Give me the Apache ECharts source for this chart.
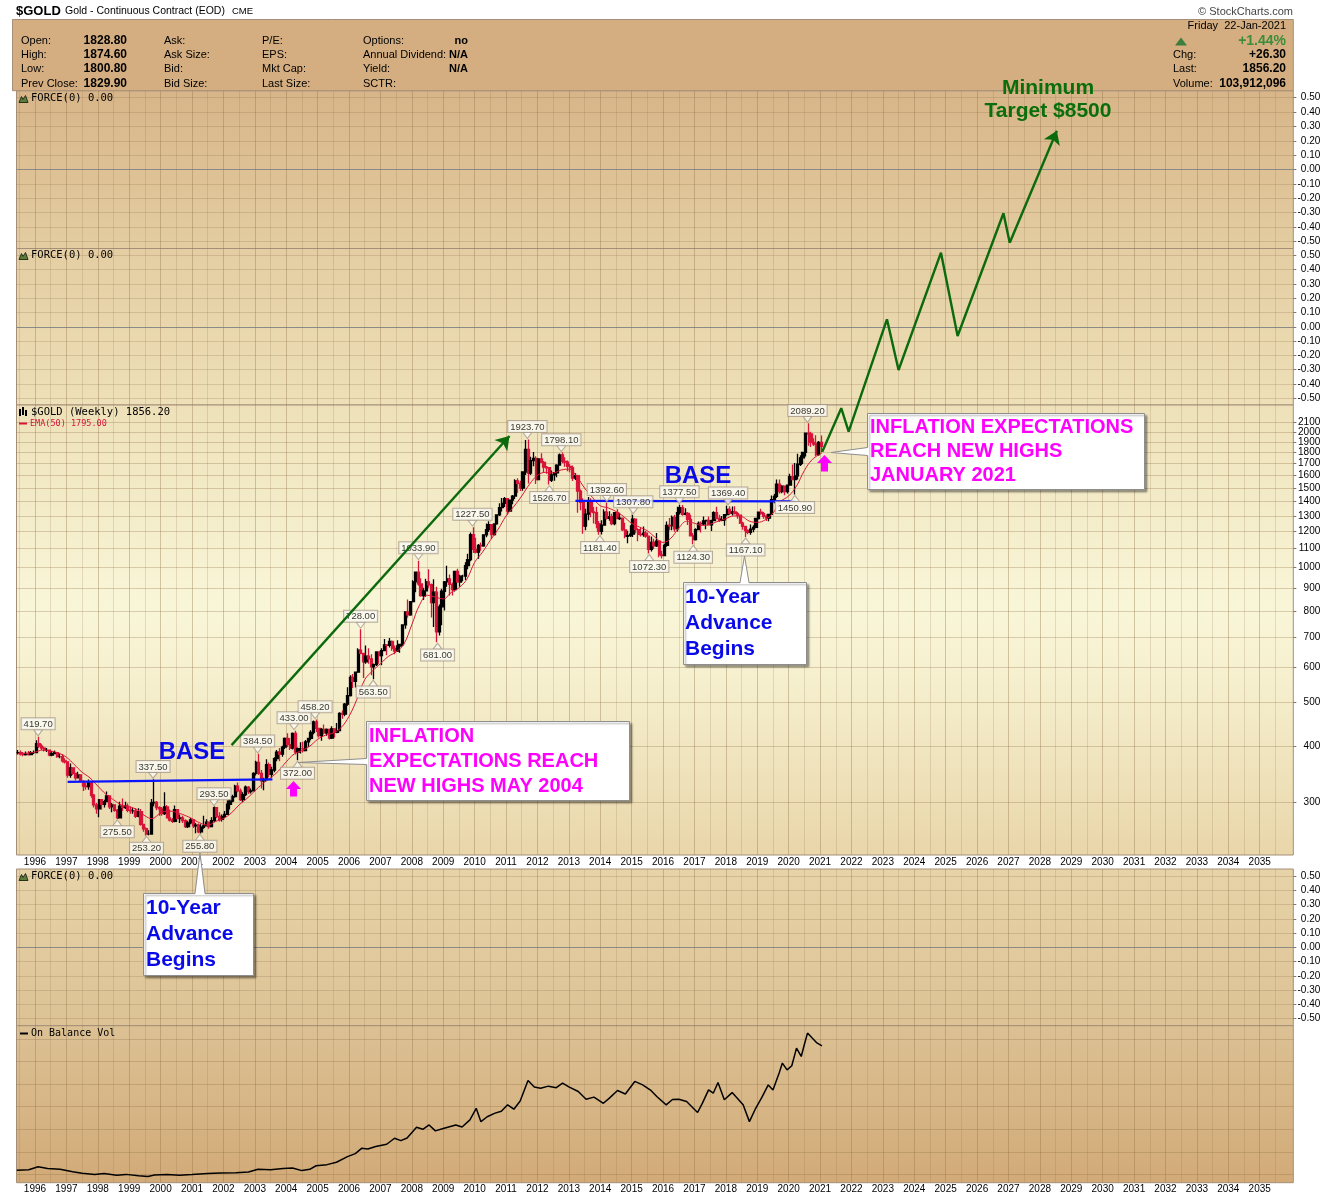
<!DOCTYPE html>
<html><head><meta charset="utf-8">
<script src="https://cdn.jsdelivr.net/npm/echarts@6/dist/echarts.min.js"></script>
<style>html,body{margin:0;padding:0;background:#fff}#c{width:1340px;height:1200px}</style>
</head><body><div id="c"></div>
<script>
// ---------------- DATA ----------------
const yearLabels = [1996,1997,1998,1999,2000,2001,2002,2003,2004,2005,2006,2007,2008,2009,2010,2011,2012,2013,2014,2015,2016,2017,2018,2019,2020,2021,2022,2023,2024,2025,2026,2027,2028,2029,2030,2031,2032,2033,2034,2035];
const halfYearLines = [1995.5,1996.5,1997.5,1998.5,1999.5,2000.5,2001.5,2002.5,2003.5,2004.5,2005.5,2006.5,2007.5,2008.5,2009.5,2010.5,2011.5,2012.5,2013.5,2014.5,2015.5,2016.5,2017.5,2018.5,2019.5,2020.5,2021.5,2022.5,2023.5,2024.5,2025.5,2026.5,2027.5,2028.5,2029.5,2030.5,2031.5,2032.5,2033.5,2034.5,2035.5];
const priceTickLabels = [300,400,500,600,700,800,900,1000,1100,1200,1300,1400,1500,1600,1700,1800,1900,2000,2100];
const forceTickLabels = [-0.5,-0.4,-0.3,-0.2,-0.1,0,0.1,0.2,0.3,0.4,0.5];
const obvGridLevels = [5.2,19.6,34,48.4,62.8,77.2,91.6];

// monthly bars, first month = June 1995
const firstYear = 1995, firstMonth = 6;
const closes = [
 387,384,383,384,383,387,387, // 1995 Jun-Dec
 405,400,396,392,392,382,385,387,379,379,371,369, // 1996
 345,358,348,340,345,334,326,325,332,311,296,290, // 1997
 304,297,301,310,293,296,288,277,294,292,294,288, // 1998
 287,287,279,286,268,262,255,255,299,300,292,290, // 1999
 283,293,277,274,272,289,276,277,273,265,270,274, // 2000
 266,267,258,264,266,271,265,273,292,279,275,279, // 2001
 282,297,302,309,326,318,304,312,324,317,318,348, // 2002
 368,348,335,337,364,346,354,375,388,384,398,416, // 2003
 403,396,427,388,395,395,391,409,416,429,453,438, // 2004
 422,436,428,436,417,437,429,433,473,471,496,518, // 2005
 569,557,584,654,643,616,634,625,600,607,648,636, // 2006
 652,672,670,684,660,651,668,673,744,795,783,838, // 2007
 928,975,918,865,886,928,914,834,880,718,816,884, // 2008
 928,942,916,891,979,927,955,955,1008,1040,1182,1096, // 2009
 1081,1118,1115,1180,1212,1244,1181,1248,1307,1357,1386,1421, // 2010
 1333,1410,1439,1556,1536,1500,1628,1829,1620,1725,1746,1566, // 2011
 1740,1710,1669,1664,1561,1604,1622,1687,1776,1719,1712,1676, // 2012
 1664,1578,1597,1476,1393,1234,1312,1396,1327,1323,1250,1202, // 2013
 1240,1326,1284,1296,1250,1322,1282,1286,1211,1171,1175,1184, // 2014
 1279,1212,1183,1182,1190,1172,1095,1135,1115,1142,1065,1061, // 2015
 1118,1238,1235,1291,1217,1322,1357,1311,1317,1277,1174,1152, // 2016
 1212,1252,1249,1268,1270,1242,1269,1322,1283,1271,1275,1309, // 2017
 1345,1318,1327,1316,1305,1253,1233,1206,1196,1215,1226,1283, // 2018
 1325,1316,1298,1285,1311,1413,1437,1529,1472,1514,1473,1523, // 2019
 1589,1566,1596,1694,1751,1800,1986,1978,1895,1879,1780,1895, // 2020
 1856 // 2021 Jan
];
const highs = [
 392,391,388,389,390,390,391,
 412,419.7,404,399,396,393,390,391,388,385,384,376,
 370,366,358,349,351,346,336,331,337,334,313,299,
 305,305,304,317,311,299,297,290,301,306,301,298,
 294,292,291,291,290,268,264,260,305,337.5,302,294,
 293,316,296,289,277,295,290,282,280,275,273,277,
 275,270,269,268,280,275,272,278,293.5,293,285,282,
 287,303,305,312,328,332,322,316,327,326,322,350,
 371,384.5,354,340,374,368,360,378,392,396,401,418,
 427,417,429,433,397,408,409,413,417,434,456,458.2,
 438,439,447,438,437,443,436,450,476,480,499,541,
 575,579,586,660,728,645,670,660,640,611,650,650,
 660,692,674,696,687,670,688,676,745,797,848,840,
 935,976,1033.9,945,900,942,990,920,940,905,826,895,
 932,1007,963,925,981,992,962,962,1025,1071,1195,1227.5,
 1162,1126,1135,1184,1250,1266,1244,1250,1310,1388,1425,1432,
 1424,1413,1447,1569,1577,1556,1632,1917,1923.7,1760,1804,1765,
 1745,1792,1723,1679,1669,1640,1627,1693,1790,1798.1,1755,1727,
 1697,1683,1617,1605,1488,1423,1348,1433,1424,1361,1362,1267,
 1271,1345,1392.6,1331,1315,1326,1345,1322,1290,1255,1205,1239,
 1307.8,1283,1220,1224,1232,1205,1175,1170,1157,1192,1142,1088,
 1127,1263,1287,1303,1306,1362,1377.5,1375,1352,1326,1308,1191,
 1221,1264,1264,1297,1273,1296,1275,1331,1362,1308,1300,1312,
 1369.4,1366,1365,1366,1326,1310,1262,1237,1215,1245,1240,1287,
 1330,1349,1326,1309,1315,1443,1454,1566,1566,1522,1516,1528,
 1613,1691,1704,1788,1775,1803,1986,2089.2,2001,1935,1966,1907,
 1962
];
const lows = [
 383,381,380,381,381,383,384,
 386,396,392,389,388,380,380,384,377,376,368,366,
 340,340,345,336,339,333,318,320,320,307,292,283,
 278,289,292,300,290,285,286,275.5,277,287,290,285,
 283,283,277,278,266,258,253.2,253.5,254,294,288,280,
 280,281,277,272,270,271,275,270,270,263,263,268,
 263,256,256,255.8,262,265,262,265,271,277,272,272,
 277,281,289,300,307,316,302,300,310,313,314,317,
 344,345,322,319,336,341,340,350,370,370,379,394,
 398,392,393,383,372,385,387,390,398,412,425,430,
 418,411,425,422,414,415,418,427,432,460,466,492,
 516,539,540,584,640,567,610,610,575,563.5,603,610,
 605,650,637,663,652,640,648,645,668,730,772,780,
 835,880,909,859,845,860,900,773,736,681,705,743,
 801,905,865,865,883,925,905,931,937,990,1031,1075,
 1072,1044,1088,1111,1165,1198,1156,1176,1243,1300,1330,1361,
 1308,1329,1381,1418,1462,1478,1480,1603,1535,1603,1676,1532,
 1563,1705,1627,1614,1526.7,1547,1556,1585,1685,1703,1673,1635,
 1626,1555,1562,1321,1339,1187,1208,1271,1292,1251,1221,1181.4,
 1182,1238,1277,1268,1240,1240,1280,1273,1204,1160,1131,1167,
 1167,1190,1142,1170,1169,1162,1072.3,1084,1098,1109,1052,1046,
 1061,1110,1208,1208,1199,1200,1310,1302,1305,1241,1171,1124.3,
 1146,1208,1195,1241,1214,1238,1204,1266,1280,1261,1265,1236,
 1302,1307,1303,1310,1282,1247,1211,1167.1,1183,1181,1196,1221,
 1277,1308,1281,1267,1266,1306,1387,1425,1458,1461,1445,1459,
 1517,1562,1450.9,1567,1679,1697,1763,1863,1851,1860,1765,1770,
 1800.8
];

// EMA(50)
const emaYears = [1995.45,1995.75,1996.0,1996.25,1996.5,1996.75,1997.0,1997.25,1997.5,1997.75,1998.0,1998.25,1998.5,1998.75,1999.0,1999.25,1999.5,1999.72,2000.0,2000.25,2000.5,2000.75,2001.0,2001.25,2001.5,2001.75,2002.0,2002.25,2002.5,2002.75,2003.0,2003.25,2003.5,2003.75,2004.0,2004.25,2004.5,2004.75,2005.0,2005.25,2005.5,2005.75,2006.0,2006.25,2006.5,2006.75,2007.0,2007.25,2007.5,2007.75,2008.0,2008.25,2008.5,2008.75,2009.0,2009.25,2009.5,2009.75,2010.0,2010.25,2010.5,2010.75,2011.0,2011.25,2011.5,2011.75,2012.0,2012.25,2012.5,2012.75,2013.0,2013.25,2013.5,2013.75,2014.0,2014.25,2014.5,2014.75,2015.0,2015.25,2015.5,2015.75,2016.0,2016.25,2016.5,2016.75,2017.0,2017.25,2017.5,2017.75,2018.0,2018.25,2018.5,2018.75,2019.0,2019.25,2019.5,2019.75,2020.0,2020.25,2020.5,2020.75,2021.06];
const emaValues = [385,386,388,392,390,386,378,364,350,340,326,313,304,296,293,289,280,276,284,287,285,281,276,270,267,272,276,284,296,306,318,330,340,352,369,384,391,400,414,423,428,440,466,508,562,588,610,633,648,675,745,825,866,858,850,878,900,940,1025,1080,1148,1215,1300,1365,1440,1530,1600,1625,1620,1645,1652,1590,1500,1430,1370,1355,1330,1295,1252,1228,1205,1165,1135,1160,1222,1265,1252,1238,1246,1265,1282,1300,1296,1266,1258,1274,1320,1400,1440,1515,1640,1735,1795];

// price annotations (value boxes)
const labelYears  = [1996.10,1998.62,1999.55,1999.76,2001.25,2001.70,2003.09,2004.25,2004.36,2004.92,2006.37,2006.77,2008.21,2008.82,2009.93,2011.68,2012.38,2012.76,2013.99,2014.21,2015.05,2015.56,2016.52,2016.96,2018.07,2018.63,2020.20,2020.60];
const labelPrices = [419.7,275.5,253.2,337.5,255.8,293.5,384.5,433.0,372.0,458.2,728.0,563.5,1033.9,681.0,1227.5,1923.7,1526.7,1798.1,1181.4,1392.6,1307.8,1072.3,1377.5,1124.3,1369.4,1167.1,1450.9,2089.2];
const labelSides  = ['top','bottom','bottom','top','bottom','top','top','top','bottom','top','top','bottom','top','bottom','top','top','bottom','top','bottom','top','top','bottom','top','bottom','top','bottom','bottom','top'];

// drawn lines
const baseLineYears  = [[1997.04,2003.56],[2013.21,2020.21]];
const baseLinePrices = [[333,337.5],[1405,1401]];
const advanceArrowYears  = [2002.26,2011.11];
const advanceArrowPrices = [402,1957];
const projYears  = [2021.07,2021.675,2021.91,2023.13,2023.50,2024.85,2025.38,2026.84,2027.04,2028.54];
const projPrices = [1806,2257,2001,3558,2745,5005,3267,6124,5266,9348];

// On Balance Volume (relative units)
const obvYears  = [1995.42,1995.8,1996.1,1996.4,1996.8,1997.2,1997.5,1997.9,1998.2,1998.6,1998.9,1999.3,1999.6,1999.8,2000.2,2000.6,2001.0,2001.5,2001.9,2002.4,2002.8,2003.1,2003.5,2003.9,2004.2,2004.5,2004.75,2004.95,2005.3,2005.6,2005.95,2006.2,2006.4,2006.6,2006.85,2007.2,2007.45,2007.65,2007.85,2008.15,2008.35,2008.55,2008.75,2009.0,2009.4,2009.6,2009.85,2010.05,2010.2,2010.4,2010.65,2010.85,2011.05,2011.25,2011.45,2011.7,2011.9,2012.1,2012.35,2012.6,2012.8,2013.0,2013.3,2013.55,2013.8,2014.1,2014.3,2014.55,2014.8,2015.1,2015.35,2015.6,2015.8,2016.1,2016.3,2016.5,2016.75,2017.1,2017.25,2017.45,2017.6,2017.75,2017.95,2018.2,2018.4,2018.55,2018.75,2018.95,2019.15,2019.35,2019.5,2019.7,2019.8,2019.95,2020.1,2020.25,2020.4,2020.5,2020.6,2020.75,2020.9,2021.06];
const obvValues = [8.0,8.3,10.2,9.0,8.5,7.0,6.0,5.2,5.8,4.7,5.3,4.4,4.0,4.9,5.3,4.8,5.2,5.8,6.2,6.3,6.8,8.6,8.2,9.0,9.4,7.7,8.5,10.8,11.5,13.0,16.6,18.5,21.9,21.5,23.0,24.5,28.3,26.8,28.5,35.3,34.0,36.8,33.0,34.5,36.8,35.5,40.0,47.4,38.9,42.0,44.3,45.5,49.6,46.8,52.0,65.1,61.0,60.2,61.5,60.5,63.4,61.0,58.1,53.2,54.5,50.6,54.0,58.7,56.5,64.5,62.3,59.0,54.9,49.6,53.0,53.2,51.7,44.7,50.5,59.1,57.0,63.8,52.8,57.4,53.0,49.6,38.9,47.4,54.5,62.3,59.1,70.0,76.2,71.9,74.5,85.7,80.4,88.0,95.3,92.1,89.0,87.2];

// ---------------- LAYOUT ----------------
const FONT = '"Liberation Sans", Arial, sans-serif';
const MONO = '"DejaVu Sans Mono", monospace';
const X_MIN = 1995.411, X_MAX = 2036.07;
const LOG_MIN = 2.35992, LOG_MAX = 3.36069;         // main price panel (log10)
const MAIN_TOP = 405, MAIN_H = 450;
const OV_TOP = 90.7;
const LOG_TOP = LOG_MAX + (MAIN_TOP - OV_TOP) * (LOG_MAX - LOG_MIN) / MAIN_H;
const FMAX = 0.549;
const L = 16.5, R = 46.7;
const lg = v => Math.log10(v);

function grad(stops){return {type:'linear',x:0,y:0,x2:0,y2:1,colorStops:stops.map(s=>({offset:s[0],color:s[1]}))};}
const BORDER = '#a58f78';
const grids = [
  {left:L,right:R,top:90.7,height:157.8,show:true,borderColor:BORDER,backgroundColor:grad([[0,'#d7b588'],[1,'#e4cda2']])},
  {left:L,right:R,top:248.5,height:156.5,show:true,borderColor:BORDER,backgroundColor:grad([[0,'#e4cda2'],[1,'#eee0b8']])},
  {left:L,right:R,top:MAIN_TOP,height:MAIN_H,show:true,borderColor:BORDER,backgroundColor:grad([[0,'#eee1b9'],[0.45,'#f9f6d8'],[0.6,'#f6f0cf'],[1,'#e9d6aa']])},
  {left:L,right:R,top:869,height:156.7,show:true,borderColor:BORDER,backgroundColor:grad([[0,'#e7d3a8'],[1,'#dcc295']])},
  {left:L,right:R,top:1025.7,height:157,show:true,borderColor:BORDER,backgroundColor:grad([[0,'#dcc194'],[1,'#d2aa78']])},
  {left:L,right:R,top:OV_TOP,height:MAIN_TOP+MAIN_H-OV_TOP,show:false}
];

const xAxes = [];
for (let g=0; g<5; g++){
  const showLab = (g===2 || g===4);
  xAxes.push({type:'value',gridIndex:g,min:X_MIN,max:X_MAX,position:'bottom',
    axisLine:{show:false},axisTick:{show:false,customValues:yearLabels},
    axisLabel:{show:showLab,customValues:yearLabels,formatter:v=>String(Math.round(v)),fontSize:10,color:'#000',fontFamily:FONT,margin:2,showMinLabel:true,showMaxLabel:true},
    splitLine:{show:true,lineStyle:{color:'rgba(140,110,70,0.36)',width:1}}});
  xAxes.push({type:'value',gridIndex:g,min:X_MIN,max:X_MAX,position:'bottom',
    axisLine:{show:false},axisTick:{show:false,customValues:halfYearLines},
    axisLabel:{show:false,customValues:halfYearLines},
    splitLine:{show:true,lineStyle:{color:'rgba(140,110,70,0.2)',width:1}}});
}
xAxes.push({type:'value',gridIndex:5,min:X_MIN,max:X_MAX,show:false});

function forceAxes(g){
  return [
    {type:'value',gridIndex:g,position:'right',min:-FMAX,max:FMAX,axisLine:{show:false},
     axisTick:{show:true,length:3,customValues:forceTickLabels,lineStyle:{color:'#8a7560'}},
     axisLabel:{customValues:forceTickLabels,formatter:v=>(Math.abs(v)<1e-9?0:v).toFixed(2),align:'right',margin:27,fontSize:10,fontFamily:FONT,color:'#000',showMinLabel:true,showMaxLabel:true},
     splitLine:{show:true,lineStyle:{color:'rgba(140,110,70,0.24)'}}},
    {type:'value',gridIndex:g,position:'right',min:-FMAX,max:FMAX,axisLine:{show:false},
     axisTick:{show:false,customValues:[0]},axisLabel:{show:false,customValues:[0]},
     splitLine:{show:true,lineStyle:{color:'#8c8a86'}}}
  ];
}
// price labels are split over two label layers so that closely spaced labels are all kept
const priceTickLogs = priceTickLabels.map(lg);
const priceLabLogsA = priceTickLabels.filter((v,i)=>!(i>=priceTickLabels.length-3 && (priceTickLabels.length-1-i)%2===0)).map(lg);
const priceLabLogsB = priceTickLabels.filter((v,i)=> (i>=priceTickLabels.length-3 && (priceTickLabels.length-1-i)%2===0)).map(lg);
const priceLabelCfg = {align:'right',margin:27,fontSize:10,fontFamily:FONT,color:'#000',formatter:v=>String(Math.round(Math.pow(10,v)))};
const yAxes = [
  ...forceAxes(0),  // 0,1
  ...forceAxes(1),  // 2,3
  {type:'value',gridIndex:2,position:'right',min:LOG_MIN,max:LOG_MAX,axisLine:{show:false},  // 4
   axisTick:{show:true,length:3,customValues:priceTickLogs,lineStyle:{color:'#8a7560'}},
   axisLabel:Object.assign({customValues:priceLabLogsA},priceLabelCfg),
   splitLine:{show:true,lineStyle:{color:'rgba(140,110,70,0.3)'}}},
  ...forceAxes(3),  // 5,6
  {type:'value',gridIndex:4,position:'right',min:0,max:100,axisLine:{show:false}, // 7
   axisTick:{show:false,customValues:obvGridLevels},axisLabel:{show:false,customValues:obvGridLevels},
   splitLine:{show:true,lineStyle:{color:'rgba(140,110,70,0.3)'}}},
  {type:'value',gridIndex:5,min:LOG_MIN,max:LOG_TOP,show:false}, // 8
  {type:'value',gridIndex:2,position:'right',min:LOG_MIN,max:LOG_MAX,axisLine:{show:false}, // 9
   axisTick:{show:false,customValues:priceLabLogsB},
   axisLabel:Object.assign({customValues:priceLabLogsB},priceLabelCfg),
   splitLine:{show:false}}
];

// ---------------- SERIES ----------------
const candles = closes.map((c,i)=>{
  const x = firstYear + (firstMonth - 1 + i + 0.5)/12;
  const o = i===0 ? closes[0] : closes[i-1];
  return [x, lg(o), lg(c), lg(lows[i]), lg(highs[i])];
});
const topLabels=[], botLabels=[];
labelYears.forEach((y,i)=>{
  const item=[y, lg(labelPrices[i]), labelPrices[i]];
  (labelSides[i]==='top'?topLabels:botLabels).push(item);
});
const labStyle = {show:true,formatter:p=>p.value[2].toFixed(2),fontSize:9.5,fontFamily:FONT,color:'#000',
  backgroundColor:'#fdfdf6',borderColor:'#a89a8a',borderWidth:1,padding:[1,2,0,2],distance:0};

const series = [
  {type:'candlestick',name:'$GOLD',xAxisIndex:4,yAxisIndex:4,barWidth:2.7,encode:{x:0,y:[1,2,3,4]},
   data:candles,z:3,
   itemStyle:{color:'#000',color0:'#d8143a',borderColor:'#000',borderColor0:'#d8143a',borderWidth:1.3}},
  {type:'line',name:'EMA(50)',xAxisIndex:4,yAxisIndex:4,showSymbol:false,smooth:0.4,z:4,
   data:emaYears.map((y,i)=>[y,lg(emaValues[i])]),lineStyle:{color:'#dd1538',width:1}},
  {type:'lines',coordinateSystem:'cartesian2d',xAxisIndex:4,yAxisIndex:4,z:5,symbol:'none',
   data:baseLineYears.map((ys,i)=>({coords:[[ys[0],lg(baseLinePrices[i][0])],[ys[1],lg(baseLinePrices[i][1])]]})),
   lineStyle:{color:'#0a14ff',width:2.2,opacity:1,curveness:0}},
  {type:'scatter',xAxisIndex:4,yAxisIndex:4,z:6,data:topLabels,symbol:'triangle',symbolRotate:180,symbolSize:[9,6],symbolOffset:[0,-4],
   itemStyle:{color:'#fdfdf6',borderColor:'#a89a8a',borderWidth:1},label:Object.assign({position:'top'},labStyle)},
  {type:'scatter',xAxisIndex:4,yAxisIndex:4,z:6,data:botLabels,symbol:'triangle',symbolSize:[9,6],symbolOffset:[0,4],
   itemStyle:{color:'#fdfdf6',borderColor:'#a89a8a',borderWidth:1},label:Object.assign({position:'bottom'},labStyle)},
  {type:'line',name:'On Balance Vol',xAxisIndex:8,yAxisIndex:7,showSymbol:false,
   data:obvYears.map((y,i)=>[y,obvValues[i]]),lineStyle:{color:'#000',width:1.5}},
  {type:'line',xAxisIndex:10,yAxisIndex:8,showSymbol:false,z:7,
   data:projYears.slice(0,-1).map((y,i)=>[y,lg(projPrices[i])]),lineStyle:{color:'#0b6a0b',width:2.4}},
  {type:'lines',coordinateSystem:'cartesian2d',xAxisIndex:10,yAxisIndex:8,z:7,symbol:['none','arrow'],symbolSize:13,
   data:[
     {coords:[[advanceArrowYears[0],lg(advanceArrowPrices[0])],[advanceArrowYears[1],lg(advanceArrowPrices[1])]]},
     {coords:[[projYears[projYears.length-2],lg(projPrices[projPrices.length-2])],[projYears[projYears.length-1],lg(projPrices[projPrices.length-1])]]}
   ],
   lineStyle:{color:'#0b6a0b',width:2.4,opacity:1,curveness:0}}
];

// ---------------- GRAPHICS (header, legends, callouts) ----------------
const G = [];
function T(x,y,text,font,fill,align,extra){
  G.push(Object.assign({type:'text',x:x,y:y,z:100,style:{text:text,font:font,fill:fill||'#000',
    align:align||'left',verticalAlign:'middle',textAlign:align||'left',textVerticalAlign:'middle'}},extra||{}));
}
function P(points,fill,stroke,lw){G.push({type:'polygon',z:100,shape:{points:points},style:{fill:fill,stroke:stroke||null,lineWidth:lw||1}});}
function PL(points,stroke){G.push({type:'polyline',z:101,shape:{points:points},style:{stroke:stroke,lineWidth:1,fill:null}});}
function BOX(x,y,w,h){G.push({type:'rect',z:99,shape:{x:x,y:y,width:w,height:h},
  style:{fill:'#fff',stroke:'#8e8e8e',lineWidth:1,shadowBlur:2,shadowOffsetX:2,shadowOffsetY:2,shadowColor:'rgba(0,0,0,0.35)'}});}

// header
G.push({type:'rect',z:1,shape:{x:12.5,y:19.5,width:1280.8,height:71.2},style:{fill:'#d4ae80',stroke:BORDER,lineWidth:1}});
T(16,11.5,'$GOLD','bold 13px '+FONT);
T(65,11.5,'Gold - Continuous Contract (EOD)','10.5px '+FONT);
T(232,11.5,'CME','9.5px '+FONT);
T(1293,11.5,'\u00A9 StockCharts.com','11px '+FONT,'#444','right');
const rowsY=[41,55,69,83.5];
['Open:','High:','Low:','Prev Close:'].forEach((t,i)=>T(21,rowsY[i],t,'11px '+FONT));
['1828.80','1874.60','1800.80','1829.90'].forEach((t,i)=>T(127,rowsY[i],t,'bold 12px '+FONT,'#000','right'));
['Ask:','Ask Size:','Bid:','Bid Size:'].forEach((t,i)=>T(164,rowsY[i],t,'11px '+FONT));
['P/E:','EPS:','Mkt Cap:','Last Size:'].forEach((t,i)=>T(262,rowsY[i],t,'11px '+FONT));
['Options:','Annual Dividend:','Yield:','SCTR:'].forEach((t,i)=>T(363,rowsY[i],t,'11px '+FONT));
['no','N/A','N/A'].forEach((t,i)=>T(468,rowsY[i],t,'bold 11px '+FONT,'#000','right'));
T(1286,26,'Friday  22-Jan-2021','11px '+FONT,'#000','right');
P([[1175,45.5],[1187,45.5],[1181,37.5]],'#3d7d3d');
T(1286,41,'+1.44%','bold 14px '+FONT,'#3c8c3c','right');
T(1173,55,'Chg:','11px '+FONT); T(1286,55,'+26.30','bold 12px '+FONT,'#000','right');
T(1173,69,'Last:','11px '+FONT); T(1286,69,'1856.20','bold 12px '+FONT,'#000','right');
T(1173,83.5,'Volume:','11px '+FONT); T(1286,83.5,'103,912,096','bold 12px '+FONT,'#000','right');

// panel legends
function forceIcon(y){P([[19,y+4],[21.5,y-2],[23,y+1],[25.5,y-3],[28,y+4]],'#5d7d3c','#26331a');}
[98.5,255.5,876.5].forEach(y=>{forceIcon(y);T(31,y,'FORCE(0) 0.00','10.5px '+MONO);});
[[19,409,2,7],[22,407,2,8],[25,410,2,6]].forEach(r=>G.push({type:'rect',z:100,shape:{x:r[0],y:r[1],width:r[2],height:r[3]},style:{fill:'#000'}}));
T(31,412,'$GOLD (Weekly) 1856.20','10.5px '+MONO);
G.push({type:'rect',z:100,shape:{x:19,y:422.5,width:8,height:2},style:{fill:'#d8143a'}});
T(30,423.5,'EMA(50) 1795.00','8.5px '+MONO,'#d8143a');
G.push({type:'rect',z:100,shape:{x:20,y:1032.5,width:8,height:2},style:{fill:'#000'}});
T(31,1033.5,'On Balance Vol','10px '+MONO);

// callout 1 (May 2004)
BOX(366.5,721.5,263,79);
P([[368,758.5],[298,762.5],[368,764.5]],'#fff'); PL([[366.5,758.5],[298,762.5],[366.5,764.5]],'#8e8e8e');
const MAG='#ff00ff';
T(369,736,'INFLATION','bold 20px '+FONT,MAG);
T(369,761,'EXPECTATIONS REACH','bold 20px '+FONT,MAG);
T(369,786,'NEW HIGHS MAY 2004','bold 20px '+FONT,MAG);
// callout 4 (Jan 2021)
BOX(867.5,413.5,277,76);
P([[869,447.5],[831,452.5],[869,455.5]],'#fff'); PL([[867.5,447.5],[831,452.5],[867.5,455.5]],'#8e8e8e');
T(870,427,'INFLATION EXPECTATIONS','bold 20px '+FONT,MAG);
T(870,451,'REACH NEW HIGHS','bold 20px '+FONT,MAG);
T(870,475,'JANUARY 2021','bold 20px '+FONT,MAG);
// callout 2 (2001)
const BLUE='#0a0ae8';
BOX(143.5,893.5,110,82);
P([[195,895],[200,853],[205,895]],'#fff'); PL([[195,893.5],[200,853],[205,893.5]],'#8e8e8e');
T(146,908,'10-Year','bold 21px '+FONT,BLUE);
T(146,934,'Advance','bold 21px '+FONT,BLUE);
T(146,960,'Begins','bold 21px '+FONT,BLUE);
// callout 3 (2018)
BOX(683.5,582.5,123,82);
P([[740,584],[744.5,556],[749,584]],'#fff'); PL([[740,582.5],[744.5,556],[749,582.5]],'#8e8e8e');
T(685,597,'10-Year','bold 21px '+FONT,BLUE);
T(685,623,'Advance','bold 21px '+FONT,BLUE);
T(685,649,'Begins','bold 21px '+FONT,BLUE);
// BASE labels
T(192,752,'BASE','bold 24px '+FONT,BLUE,'center');
T(698,476,'BASE','bold 24px '+FONT,BLUE,'center');
// magenta arrows
P([[293.5,781],[301,789],[297,789],[297,796.5],[290,796.5],[290,789],[286,789]],MAG);
P([[824.5,455],[832,463],[828,463],[828,471.5],[821,471.5],[821,463],[817,463]],MAG);
// target text
T(1048,88,'Minimum','bold 21px '+FONT,'#0a6e0a','center');
T(1048,111.5,'Target $8500','bold 21px '+FONT,'#0a6e0a','center');

const chart = echarts.init(document.getElementById('c'),null,{renderer:'canvas',width:1340,height:1200});
chart.setOption({
  animation:false,
  backgroundColor:'#ffffff',
  grid:grids,
  xAxis:xAxes,
  yAxis:yAxes,
  series:series,
  graphic:{elements:G}
});
</script></body></html>
